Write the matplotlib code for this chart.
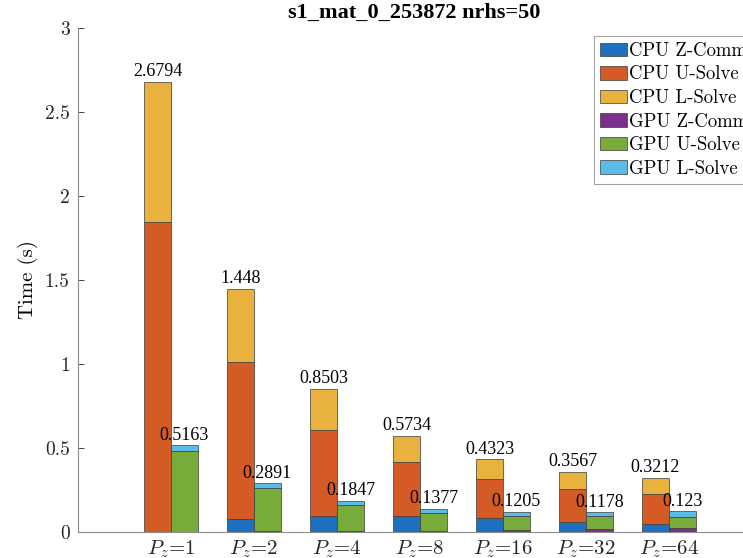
import matplotlib
matplotlib.use("Agg")
import matplotlib.pyplot as plt
import numpy as np

plt.rcParams['mathtext.fontset'] = 'cm'
plt.rcParams['axes.unicode_minus'] = False

pz = [1, 2, 4, 8, 16, 32, 64]

# CPU stacks (s)
cpu_zcomm = [0.0, 0.077, 0.095, 0.095, 0.082, 0.061, 0.045]
cpu_usolve = [1.845, 0.937, 0.514, 0.320, 0.233, 0.193, 0.181]
cpu_lsolve = [0.8344, 0.434, 0.2413, 0.1584, 0.1173, 0.1027, 0.0952]

# GPU stacks (s)
gpu_zcomm = [0.002, 0.003, 0.004, 0.006, 0.012, 0.016, 0.025]
gpu_usolve = [0.482, 0.261, 0.155, 0.107, 0.085, 0.079, 0.067]
gpu_lsolve = [0.0323, 0.0251, 0.0257, 0.0247, 0.0235, 0.0228, 0.031]

labels = ['CPU Z-Comm', 'CPU U-Solve', 'CPU L-Solve',
          'GPU Z-Comm', 'GPU U-Solve', 'GPU L-Solve']
colors = ['#1f6fbf', '#d45a26', '#e9b23f', '#7a2f8a', '#77ab3a', '#5bbbe8']

W, H = 743, 558
fig = plt.figure(figsize=(W / 100, H / 100), dpi=100)

def px(x0, y0, x1, y1):
    # pixel box (top-left origin) -> figure fraction rect
    return [x0 / W, 1 - y1 / H, (x1 - x0) / W, (y1 - y0) / H]

def fmt(v):
    return ('%.4f' % v).rstrip('0').rstrip('.')

ax = fig.add_axes(px(78, 28, 830, 532))

x = np.arange(1, len(pz) + 1)
bw = 0.325
xc = x - bw / 2
xg = x + bw / 2

cpu = [cpu_zcomm, cpu_usolve, cpu_lsolve]
gpu = [gpu_zcomm, gpu_usolve, gpu_lsolve]

handles = []
bottom = np.zeros(len(pz))
for vals, c, lab in zip(cpu, colors[:3], labels[:3]):
    h = ax.bar(xc, vals, bw, bottom=bottom, color=c, edgecolor='#3a3a3a',
               linewidth=0.5, label=lab)
    handles.append(h)
    bottom = bottom + np.array(vals)
cpu_total = bottom

bottom = np.zeros(len(pz))
for vals, c, lab in zip(gpu, colors[3:], labels[3:]):
    h = ax.bar(xg, vals, bw, bottom=bottom, color=c, edgecolor='#3a3a3a',
               linewidth=0.5, label=lab)
    handles.append(h)
    bottom = bottom + np.array(vals)
gpu_total = bottom

for xi, t in zip(xc, cpu_total):
    ax.text(xi, t + 0.01, fmt(t), ha='center', va='bottom',
            family='Liberation Serif', fontsize=13)
for xi, t in zip(xg, gpu_total):
    ax.text(xi, t + 0.01, fmt(t), ha='center', va='bottom',
            family='Liberation Serif', fontsize=13)

ax.set_xlim(1 - (171 - 78) / 83, 1 + (830 - 171) / 83)
ax.set_ylim(0, 3)
ax.set_yticks([0, 0.5, 1, 1.5, 2, 2.5, 3])
ax.set_yticklabels(['0', '0.5', '1', '1.5', '2', '2.5', '3'],
                   family='cmr10', fontsize=14)
ax.set_xticks(x)
ax.set_xticklabels([r'$P_z$=%d' % p for p in pz], family='cmr10', fontsize=15)
ax.tick_params(axis='y', direction='in', length=4, width=0.6, colors='#262626',
               pad=6)
ax.tick_params(axis='x', length=0, pad=5, colors='#262626')
ax.set_ylabel('Time (s)', family='cmr10', fontsize=15, labelpad=5)

for s in ['top', 'right']:
    ax.spines[s].set_visible(False)
for s in ['left', 'bottom']:
    ax.spines[s].set_color('#8c8c8c')
    ax.spines[s].set_linewidth(0.8)

fig.text(414 / W, 1 - 13 / H, 's1_mat_0_253872 nrhs=50', ha='center',
         va='center', family='Liberation Serif', fontweight='bold', fontsize=16)

leg = fig.legend(handles, labels, loc='upper left',
                 bbox_to_anchor=(594 / W, 1 - 36 / H),
                 prop={'family': 'cmr10', 'size': 13.5}, frameon=True,
                 fancybox=False, edgecolor='#8c8c8c', handlelength=1.45,
                 handleheight=0.75, handletextpad=0.08, labelspacing=0.3,
                 borderpad=0.32, borderaxespad=0)
leg.get_frame().set_linewidth(0.8)

fig.savefig('out.png', dpi=100)
